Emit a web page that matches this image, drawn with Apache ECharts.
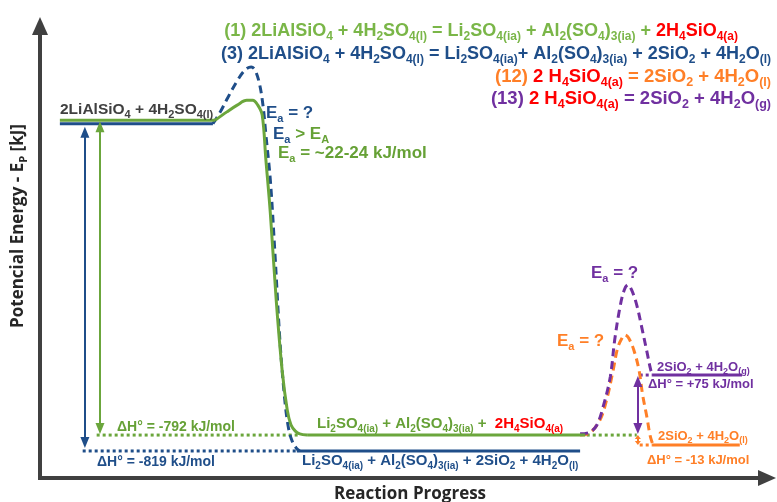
<!DOCTYPE html>
<html><head><meta charset="utf-8">
<script src="https://cdn.jsdelivr.net/npm/echarts@6/dist/echarts.min.js"></script>
<style>html,body{margin:0;padding:0;background:#fff}#c{width:777px;height:502px}</style>
</head><body><div id="c"></div>
<script>
// ---- Data: reaction progress (0-100) vs schematic potential energy (diagram units, kJ/mol-like) ----
const green1Reactant = [[2.7,0],[23.8,0]];
const green1Curve = [[23.8,0],[25.4,21],[26.8,38],[28.1,50],[28.9,50],[29.6,38],[30.2,13],[30.7,-100],[31.3,-233],[32.1,-452],[32.9,-628],[33.6,-729],[34.1,-766],[34.7,-782],[35.3,-789],[36.3,-792]];
const green1Product = [[36.3,-792],[74.1,-792]];
const green1RefLeft = [[7.7,-792],[35.3,-792]];
const green1RefRight = [[74.3,-792],[81.1,-792]];

const blue3Reactant = [[2.7,-9],[23.5,-9]];
const blue3Curve = [[23.5,-9],[24.5,21],[25.5,56],[26.8,99],[27.9,127],[28.7,134],[29.2,127],[29.8,94],[30.3,38],[30.7,-37],[31.3,-150],[31.9,-326],[32.6,-553],[33.2,-691],[33.7,-767],[34.2,-804],[34.8,-824],[35.3,-832]];
const blue3Product = [[34.9,-832],[73.4,-832]];
const blue3Ref = [[5.8,-832],[34.9,-832]];

const purple13Curve = [[73.4,-789],[74.7,-785],[75.7,-766],[76.6,-716],[77.5,-646],[78.1,-553],[78.8,-472],[79.4,-427],[79.9,-414],[80.4,-427],[81.1,-465],[81.8,-523],[82.5,-584],[83.0,-628],[83.3,-641]];
const purple13Product = [[83.3,-641],[95.4,-641]];
const purple13Ref = [[81.5,-641],[83.3,-641]];

const orange12Curve = [[73.4,-792],[74.7,-787],[76.1,-754],[77.0,-704],[77.9,-628],[78.5,-573],[79.1,-548],[79.5,-540],[80.0,-548],[80.7,-578],[81.4,-628],[81.9,-691],[82.5,-749],[82.9,-792],[83.3,-817]];
const orange12Product = [[83.3,-817],[95.1,-817]];
const orange12Ref = [[81.5,-817],[83.3,-817]];

// enthalpy arrows: [x, fromLevel, toLevel]
const arrowDH1 = [8.15, 0, -792];
const arrowDH3 = [6.1, -9, -832];
const arrowDH13 = [81.25, -641, -792];
const arrowDH12 = [81.25, -792, -817];

// texts
const hdr1 = [["(1) 2LiAlSiO_{4} + 4H_{2}SO_{4(l)} = Li_{2}SO_{4(ia)} + Al_{2}(SO_{4})_{3(ia)} + ","G"],["2H_{4}SiO_{4(a)}","R"]];
const hdr2 = [["(3) 2LiAlSiO_{4} + 4H_{2}SO_{4(l)} = Li_{2}SO_{4(ia)}+ Al_{2}(SO_{4})_{3(ia)} + 2SiO_{2} + 4H_{2}O_{(l)}","B"]];
const hdr3 = [["(12) ","O"],["2 H_{4}SiO_{4(a)}","R"],[" = 2SiO_{2} + 4H_{2}O_{(l)}","O"]];
const hdr4 = [["(13) ","P"],["2 H_{4}SiO_{4(a)}","R"],[" = 2SiO_{2} + 4H_{2}O_{(g)}","P"]];
const reactLabel = [["2LiAlSiO_{4} + 4H_{2}SO_{4(l)}","K"]];
const eaBlue = [["E_{a} = ?","B"]];
const eaCompare = [["E_{a}","B"],[" > E_{A}","GT"]];
const eaValue = [["E_{a} = ~22-24 kJ/mol","GT"]];
const dH1Label = [["ΔH° = -792 kJ/mol","GT"]];
const dH3Label = [["ΔH° = -819 kJ/mol","B"]];
const prodGreen = [["Li_{2}SO_{4(ia)} + Al_{2}(SO_{4})_{3(ia)} +  ","GT"],["2H_{4}SiO_{4(a)}","R"]];
const prodBlue = [["Li_{2}SO_{4(ia)} + Al_{2}(SO_{4})_{3(ia)} + 2SiO_{2} + 4H_{2}O_{(l)}","B"]];
const eaPurple = [["E_{a} = ?","P"]];
const eaOrange = [["E_{a} = ?","O"]];
const prodPurple = [["2SiO_{2} + 4H_{2}O_{(g)}","P"]];
const dH13Label = [["ΔH° = +75 kJ/mol","P"]];
const prodOrange = [["2SiO_{2} + 4H_{2}O_{(l)}","O"]];
const dH12Label = [["ΔH° = -13 kJ/mol","O"]];
const yTitle = [["Potencial Energy - E_{P} [kJ]","X"]];
const xTitle = "Reaction Progress";

// ---- styling ----
const COL = {G:'#7AB648', GT:'#66A136', R:'#FF0000', B:'#1F4E89', O:'#FF7F27', P:'#7030A0', K:'#404040', X:'#262626'};
const LINE = {green:'#6BA63C', blue:'#1F4E89', orange:'#FF7F27', purple:'#7030A0'};
const FONT = '"Liberation Sans", Arial, sans-serif';
const FONT2 = '"Open Sans", "Liberation Sans", sans-serif';
const Y_MIN = -900, Y_MAX = 237, X_MAX = 98.8;
const GRID = {left:40, right:10, top:26, bottom:24};

function richText(parts, size, sub, family) {
  const r = {}; let text = '';
  parts.forEach(([str, ck], i) => {
    const color = COL[ck];
    const m = 'm' + i, s = 's' + i;
    r[m] = {fontSize:size, fontWeight:'bold', fontFamily:family||FONT, fill:color, color, lineHeight:Math.round(size*1.35), verticalAlign:'middle'};
    r[s] = {fontSize:sub, fontWeight:'bold', fontFamily:family||FONT, fill:color, color, lineHeight:sub, verticalAlign:'bottom'};
    const re = /_\{([^}]*)\}/g; let last = 0, mt;
    while ((mt = re.exec(str))) {
      if (mt.index > last) text += '{' + m + '|' + str.slice(last, mt.index) + '}';
      text += '{' + s + '|' + mt[1] + '}';
      last = re.lastIndex;
    }
    if (last < str.length) text += '{' + m + '|' + str.slice(last) + '}';
  });
  return {text, rich:r};
}
function txt(parts, x, y, size, sub, align, extra) {
  const rt = richText(parts, size, sub, extra && extra.family);
  return Object.assign({type:'text', x, y, silent:true, z:10,
    style:{text:rt.text, rich:rt.rich, align:align||'left', verticalAlign:'middle'}}, extra && extra.el || {});
}

function ls(data, color, kind, smooth, z) {
  return {type:'line', data, smooth:smooth ? 0.35 : false, symbol:'none', silent:true, z:z||2,
    lineStyle:{color, width:3, type: kind==='dash' ? [8,5] : kind==='dot' ? [3,3] : 'solid', cap:'butt'}};
}
const pxPerE = (502 - GRID.top - GRID.bottom) / (Y_MAX - Y_MIN);
function arrow(a, color, size, gapPx) {
  const [x, from, to] = a;
  const dir = Math.sign(to - from);
  const inset = (gapPx + size[1] / 2) / pxPerE;
  return {type:'line', data:[], silent:true, z:3,
    markLine:{silent:true, animation:false, symbol:['triangle','triangle'], symbolSize:size,
      label:{show:false}, emphasis:{disabled:true},
      lineStyle:{color, width:2, type:'solid'},
      data:[[{coord:[x, from + dir*inset]}, {coord:[x, to - dir*inset]}]]}};
}

const axisCommon = {axisTick:{show:false}, axisLabel:{show:false}, splitLine:{show:false}};
const axisLine = {show:true, onZero:false, symbol:['none','triangle'], symbolSize:[16,18], lineStyle:{color:'#404040', width:4, cap:'square'}};

const chart = echarts.init(document.getElementById('c'));
chart.setOption({
  animation:false,
  backgroundColor:'#fff',
  grid:GRID,
  xAxis:Object.assign({type:'value', min:0, max:X_MAX, axisLine}, axisCommon),
  yAxis:Object.assign({type:'value', min:Y_MIN, max:Y_MAX, axisLine}, axisCommon),
  series:[
    ls(green1RefLeft, LINE.green, 'dot'),
    ls(green1RefRight, LINE.green, 'dot'),
    ls(blue3Ref, LINE.blue, 'dot'),
    ls(purple13Ref, LINE.purple, 'dot'),
    ls(orange12Ref, LINE.orange, 'dot'),
    ls(blue3Reactant, LINE.blue, 'solid'),
    ls(blue3Curve, LINE.blue, 'dash', true),
    ls(blue3Product, LINE.blue, 'solid'),
    ls(green1Reactant, LINE.green, 'solid', false, 3),
    ls(green1Curve, LINE.green, 'solid', true, 3),
    ls(green1Product, LINE.green, 'solid', false, 3),
    ls(orange12Curve, LINE.orange, 'dash', true),
    ls(orange12Product, LINE.orange, 'solid'),
    ls(purple13Curve, LINE.purple, 'dash', true),
    ls(purple13Product, LINE.purple, 'solid'),
    arrow(arrowDH1, LINE.green, [9,11], 1),
    arrow(arrowDH3, LINE.blue, [9,11], 3),
    arrow(arrowDH13, LINE.purple, [9,11], 1),
    arrow(arrowDH12, LINE.orange, [6,4], 0)
  ],
  graphic:[
    txt(hdr1, 738, 31, 18, 12, 'right'),
    txt(hdr2, 771, 54, 18, 12, 'right'),
    txt(hdr3, 771, 77, 18.5, 12.5, 'right'),
    txt(hdr4, 771, 99, 18.5, 12.5, 'right'),
    txt(reactLabel, 60, 110, 15.5, 11),
    txt(eaBlue, 266, 113, 17, 11),
    txt(eaCompare, 273, 134, 17, 11),
    txt(eaValue, 278, 153, 17, 11),
    txt(dH1Label, 117, 427, 14, 9),
    txt(dH3Label, 97, 462, 14, 9),
    txt(prodGreen, 317, 424, 15, 10),
    txt(prodBlue, 302, 461, 15, 10),
    txt(eaPurple, 591, 273, 17, 11),
    txt(eaOrange, 557, 341, 17, 11),
    txt(prodPurple, 657, 367, 13, 9),
    txt(dH13Label, 648, 384, 13, 9),
    txt(prodOrange, 658, 436, 13, 9),
    txt(dH12Label, 647, 460, 13, 9),
    txt(yTitle, 18, 226, 17, 11, 'center', {family:FONT2, el:{rotation:Math.PI/2}}),
    {type:'text', x:410, y:494, silent:true, style:{text:xTitle, fontSize:17, fontWeight:'bold', fontFamily:FONT2, fill:'#262626', align:'center', verticalAlign:'middle'}}
  ]
});
</script></body></html>
